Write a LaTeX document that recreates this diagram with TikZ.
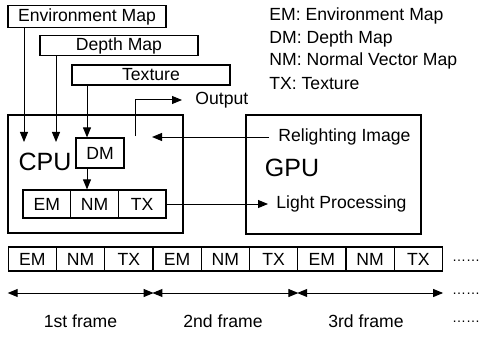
\documentclass[tikz,border=0pt]{standalone}
\usepackage{fontspec}
\setmainfont{Liberation Sans}
\usepackage{tikz}
\usetikzlibrary{positioning}
\usetikzlibrary{arrows.meta}
\usetikzlibrary{calc}
\tikzstyle{block} = [draw, line width=0.6pt, inner sep=1pt,
minimum height=10pt, font=\fontsize{8.8}{10}\selectfont]
\tikzstyle{link} = [draw, line width=0.5pt, -{Triangle[length=5pt,width=4pt]}]
\tikzstyle{twoway} = [draw, line width=0.5pt,
{Triangle[length=5pt,width=4pt]}-{Triangle[length=5pt,width=4pt]}]

\begin{document}
\begin{tikzpicture}[x=0.5pt, y=-0.5pt,
        txt/.style={inner sep=0pt, font=\fontsize{8.8}{10}\selectfont},
        big/.style={inner sep=0pt, font=\fontsize{12.5}{14}\selectfont},
        cell/.style={block, minimum width=24.1pt, minimum height=12pt},
        etc/.style={inner sep=0pt, font=\fontsize{7}{8}\selectfont}]
        \useasboundingbox (0,0) rectangle (485,336);
        %% Inputs
        \node [block, minimum width=79pt, minimum height=11pt] at (87,16.5) (envmap) {Environment Map};
        \node [block, minimum width=79pt] at (119,45.5) (depthmap) {Depth Map};
        \node [block, minimum width=79pt] at (151,75) (texture) {Texture};
        %% Processors
        \node [block, minimum width=87.5pt, minimum height=59pt] at (95.5,174) (cpu) {};
        \node [block, minimum width=87.5pt, minimum height=59.5pt] at (333.5,174.5) (gpu) {};
        \node [big] at (45,162) (cpulabel) {CPU};
        \node [big] at (292,168) (gpulabel) {GPU};
        \node [block, minimum width=24pt, minimum height=15pt] at (100,153) (dm) {DM};
        \node [cell, minimum width=23.8pt, minimum height=14pt] at (46.8,204) (em) {EM};
        \node [cell, minimum width=23.8pt, minimum height=14pt] at (94.5,204) (nm) {NM};
        \node [cell, minimum width=23.8pt, minimum height=14pt] at (142.2,204) (tx) {TX};
        %% Labels
        \node [txt, anchor=west] at (195,100) (output) {Output};
        \node [txt, anchor=west] at (278,137) (relight) {Relighting Image};
        \node [txt, anchor=west] at (276,204) (light) {Light Processing};
        %% Legend
        \node [txt, anchor=west] at (269,16) (keyem) {EM: Environment Map};
        \node [txt, anchor=west] at (269,38.5) (keydm) {DM: Depth Map};
        \node [txt, anchor=west] at (269,61) (keynm) {NM: Normal Vector Map};
        \node [txt, anchor=west] at (269,83.5) (keytx) {TX: Texture};
        %% Frame sequence
        \foreach \lbl [count=\i] in {EM,NM,TX,EM,NM,TX,EM,NM,TX}
            \node [cell] at ({32.4+(\i-1)*48.25},259) (seq\i) {\lbl};
        \node [txt] at (80.5,321) (frameone) {1st frame};
        \node [txt] at (223,321) (frametwo) {2nd frame};
        \node [txt] at (366,321) (framethree) {3rd frame};
        \node [etc] at (466,261) (dotsa) {\ldots\ldots};
        \node [etc] at (466,294) (dotsb) {\ldots\ldots};
        \node [etc] at (466,322) (dotsc) {\ldots\ldots};
        %% Arcs
        \coordinate (emin) at (24,142);
        \coordinate (dpin) at (56,142);
        \coordinate (txin) at (87,0);
        \coordinate (outfoot) at (135,136);
        \coordinate (relin) at (152,137);
        \coordinate (arrowrow) at (0,293);
        \path [link] (envmap.south -| emin) to (emin);
        \path [link] (depthmap.south -| dpin) to (dpin);
        \path [link] (texture.south -| txin) to (dm.north -| txin);
        \path [link] (dm.south -| txin) to (nm.north -| txin);
        \path [link, shorten >=6.5pt] (outfoot) |- (output.west);
        \path [link, shorten <=4.5pt] (relight.west) to (relin);
        \path [link, shorten >=4pt] (tx.east) to (light.west);
        \path [twoway] (seq1.west |- arrowrow) to (seq3.east |- arrowrow);
        \path [twoway] (seq4.west |- arrowrow) to (seq6.east |- arrowrow);
        \path [twoway] (seq7.west |- arrowrow) to (seq9.east |- arrowrow);
    \end{tikzpicture}
\end{document}
